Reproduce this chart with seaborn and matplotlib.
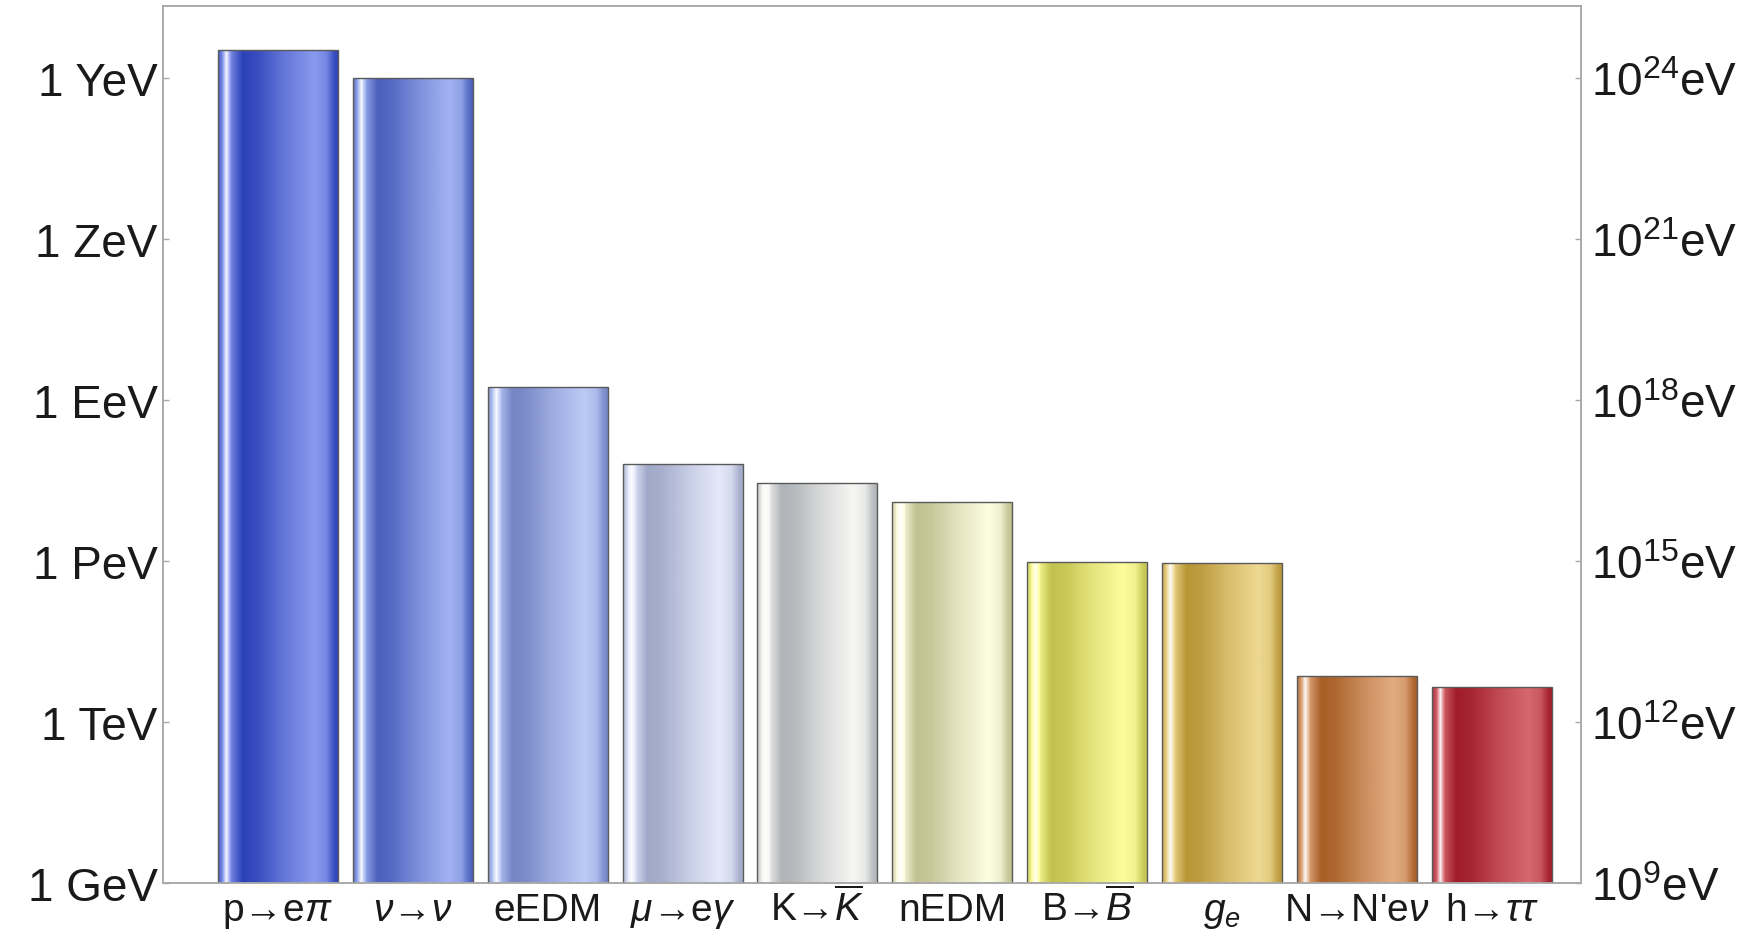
import numpy as np
import pandas as pd
import matplotlib
matplotlib.use("Agg")
import matplotlib.pyplot as plt
from matplotlib.colors import to_rgb
import seaborn as sns

# Energy scales probed by each process (eV)
processes = [r"p→e$\pi$", r"$\nu$→$\nu$", "eEDM", r"$\mu$→e$\gamma$", r"K→$\overline{K}$",
             "nEDM", r"B→$\overline{B}$", r"$g_e$", r"N→N'e$\nu$", r"h→$\tau\tau$"]
energy_ev = [3.4e24, 1.0e24, 1.74e18, 6.3e16, 2.9e16, 1.26e16, 9.5e14, 9.1e14, 7.1e12, 4.5e12]

# shading colours per bar: (shadow, lit)
shadow_colors = ["#2c42b8", "#4a60bc", "#7585c5", "#a0a8c8", "#b0b4b8",
                 "#c0c090", "#c2c24e", "#b89636", "#a85e26", "#a01c2a"]
lit_colors = ["#8a9aee", "#a2b2f2", "#bccaf6", "#e4e8fa", "#f6f6f3",
              "#fdfde2", "#fdfd9e", "#eed892", "#e2ac82", "#d6686f"]

left_ticks = [1e9, 1e12, 1e15, 1e18, 1e21, 1e24]
left_labels = ["1 GeV", "1 TeV", "1 PeV", "1 EeV", "1 ZeV", "1 YeV"]
right_labels = [r"$10^{9}$eV", r"$10^{12}$eV", r"$10^{15}$eV", r"$10^{18}$eV",
                r"$10^{21}$eV", r"$10^{24}$eV"]

sns.set_style("white")
plt.rcParams["font.family"] = ["Liberation Sans", "DejaVu Sans"]
plt.rcParams["mathtext.fontset"] = "custom"
plt.rcParams["mathtext.rm"] = "Liberation Sans"
plt.rcParams["mathtext.it"] = "Liberation Sans:italic"
plt.rcParams["mathtext.bf"] = "Liberation Sans:bold"
plt.rcParams["text.color"] = "#1a1a1a"

df = pd.DataFrame({"process": processes, "energy": energy_ev})

fig = plt.figure(figsize=(17.59, 9.37), dpi=100)
ax = fig.add_axes([0.0927, 0.0566, 0.8061, 0.9363])
ax.set_yscale("log")

sns.barplot(data=df, x="process", y="energy", hue="process", palette=shadow_colors,
            legend=False, width=0.89, ax=ax, saturation=1.0)

ymin, ymax = 1e9, 10 ** 25.35
ax.set_ylim(ymin, ymax)
ax.set_xlim(-0.851, 9.66)

# cylindrical shading profile across each bar
t = np.linspace(0, 1, 400)
stops_t = [0.0, 0.025, 0.065, 0.11, 0.2, 0.32, 0.55, 0.8, 0.9, 0.965, 1.0]
stops_v = [0.35, 0.7, 1.9, 0.7, 0.0, 0.12, 0.6, 1.0, 0.78, 0.15, 0.0]
v = np.interp(t, stops_t, stops_v)

for patch, dark, light in zip(ax.patches, shadow_colors, lit_colors):
    d = np.array(to_rgb(dark))
    l = np.array(to_rgb(light))
    w = np.ones(3)
    lo = np.clip(v, 0, 1)[:, None]
    hi = np.clip(v - 1, 0, 1)[:, None]
    rgb = d + lo * (l - d) + hi * (w - l)
    img = np.clip(rgb, 0, 1)[None, :, :]
    x0 = patch.get_x()
    x1 = x0 + patch.get_width()
    top = patch.get_y() + patch.get_height()
    ax.imshow(img, extent=(x0, x1, ymin, top), aspect="auto", origin="lower",
              interpolation="bilinear", zorder=2)
    patch.set_facecolor("none")
    patch.set_edgecolor("#5a5a5a")
    patch.set_linewidth(1.0)
    patch.set_zorder(3)

ax.set_aspect("auto")
ax.set_xlim(-0.851, 9.66)
ax.set_ylim(ymin, ymax)

spine_color = "#a8a8a8"
for s in ax.spines.values():
    s.set_color(spine_color)
    s.set_linewidth(1.1)
    s.set_visible(True)

ax.set_xlabel("")
ax.set_ylabel("")
ax.set_yticks(left_ticks, left_labels)
ax.minorticks_off()
ax.tick_params(axis="y", which="major", direction="in", length=4.5, width=1.0,
               color=spine_color, labelsize=33, pad=4, labelcolor="#1a1a1a")
ax.set_xticks(range(len(processes)), processes)
ax.tick_params(axis="x", which="major", direction="in", length=4.5, width=1.0,
               color=spine_color, labelsize=28, pad=27, labelcolor="#1a1a1a")
for lbl in ax.get_xticklabels():
    lbl.set_va("baseline")

ax2 = ax.twinx()
ax2.set_yscale("log")
ax2.set_ylim(ymin, ymax)
ax2.set_yticks(left_ticks, right_labels)
ax2.minorticks_off()
ax2.tick_params(axis="y", which="major", direction="in", length=4.5, width=1.0,
                color=spine_color, labelsize=33, pad=7, labelcolor="#1a1a1a")
for s in ax2.spines.values():
    s.set_color(spine_color)
    s.set_linewidth(1.1)
ax2.grid(False)
ax.grid(False)

fig.savefig("out.png", dpi=100)
